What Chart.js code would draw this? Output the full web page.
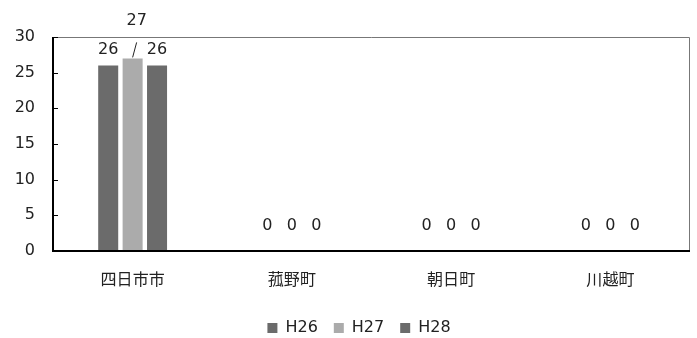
<!DOCTYPE html>
<html>
<head>
<meta charset="utf-8">
<script src="https://cdn.jsdelivr.net/npm/chart.js@4"></script>
<style>
  html, body { margin: 0; padding: 0; background: #fff; }
  #wrap { width: 697px; height: 338px; }
</style>
</head>
<body>
<div id="wrap"><canvas id="bar_chart" width="697" height="338"></canvas></div>
<script>
// data
const categories = ['四日市市', '菰野町', '朝日町', '川越町'];
const seriesNames = ['H26', 'H27', 'H28'];
const h26 = [26, 0, 0, 0];
const h27 = [27, 0, 0, 0];
const h28 = [26, 0, 0, 0];
const yTicks = [0, 5, 10, 15, 20, 25, 30];

const colors = ['#6b6b6b', '#ababab', '#6b6b6b'];
const FONT = '"DejaVu Sans", Verdana, sans-serif';

// labels above bars, 27 gets a leader line like the original
const labelPlugin = {
    id: 'labels',
    afterLayout(chart) {
        // legend in the original sits a little right of centre
        chart.legend.left += 14;
        chart.legend.right += 14;
    },
    afterDatasetsDraw(chart) {
        const ctx = chart.ctx;
        ctx.save();
        ctx.font = '16px ' + FONT;
        ctx.fillStyle = '#222';
        ctx.textAlign = 'center';
        ctx.textBaseline = 'middle';
        chart.data.datasets.forEach((ds, i) => {
            chart.getDatasetMeta(i).data.forEach((bar, j) => {
                const v = ds.data[j];
                if (i === 1 && v > 0) {
                    ctx.fillText(String(v), bar.x + 4, bar.y - 38);
                    ctx.strokeStyle = '#222';
                    ctx.lineWidth = 1;
                    ctx.beginPath();
                    ctx.moveTo(bar.x, bar.y - 1);
                    ctx.lineTo(bar.x + 4, bar.y - 16);
                    ctx.stroke();
                } else {
                    ctx.fillText(String(v), bar.x, bar.y - (v > 0 ? 16 : 25));
                }
            });
        });
        ctx.restore();
    }
};

// plot frame and inner tick marks
const framePlugin = {
    id: 'frame',
    afterDraw(chart) {
        const a = chart.chartArea;
        const ctx = chart.ctx;
        const y = chart.scales.y;
        ctx.save();
        ctx.strokeStyle = '#777';
        ctx.lineWidth = 1;
        ctx.beginPath();
        ctx.moveTo(a.left, a.top + 0.5);
        ctx.lineTo(a.right - 0.5, a.top + 0.5);
        ctx.lineTo(a.right - 0.5, a.bottom);
        ctx.stroke();
        ctx.strokeStyle = '#000';
        ctx.lineWidth = 2;
        ctx.beginPath();
        ctx.moveTo(a.left, a.top);
        ctx.lineTo(a.left, a.bottom);
        ctx.lineTo(a.right, a.bottom);
        ctx.stroke();
        ctx.lineWidth = 1;
        yTicks.forEach(t => {
            const py = Math.round(y.getPixelForValue(t)) + 0.5;
            ctx.beginPath();
            ctx.moveTo(a.left, py);
            ctx.lineTo(a.left + 5, py);
            ctx.stroke();
        });
        ctx.restore();
    }
};

const bar_chart_ref = new Chart(document.getElementById('bar_chart'), {
    type: 'bar',
    data: {
        labels: categories,
        datasets: [h26, h27, h28].map((d, i) => ({
            label: seriesNames[i],
            data: d,
            backgroundColor: colors[i],
            borderWidth: 0,
            barPercentage: 0.82,
            categoryPercentage: 0.46
        }))
    },
    options: {
        responsive: false,
        animation: false,
        layout: { padding: { top: 37, right: 7, left: 0, bottom: -8 } },
        plugins: {
            tooltip: { enabled: false },
            legend: {
                position: 'bottom',
                labels: {
                    font: { family: FONT, size: 16 },
                    color: '#222',
                    boxWidth: 10,
                    boxHeight: 10,
                    padding: 16
                }
            }
        },
        scales: {
            x: {
                grid: { display: false },
                border: { display: false },
                ticks: {
                    font: { family: '"Noto Sans CJK JP", sans-serif', size: 16 },
                    color: '#222',
                    padding: 10
                },
                afterFit(scale) { scale.height = 53; }
            },
            y: {
                min: 0,
                max: 30,
                afterBuildTicks(scale) { scale.ticks = yTicks.map(v => ({ value: v })); },
                grid: { display: false },
                border: { display: false },
                ticks: {
                    font: { family: FONT, size: 16 },
                    color: '#222',
                    padding: 10
                },
                afterFit(scale) { scale.width = 53; }
            }
        }
    },
    plugins: [labelPlugin, framePlugin]
});
</script>
</body>
</html>
